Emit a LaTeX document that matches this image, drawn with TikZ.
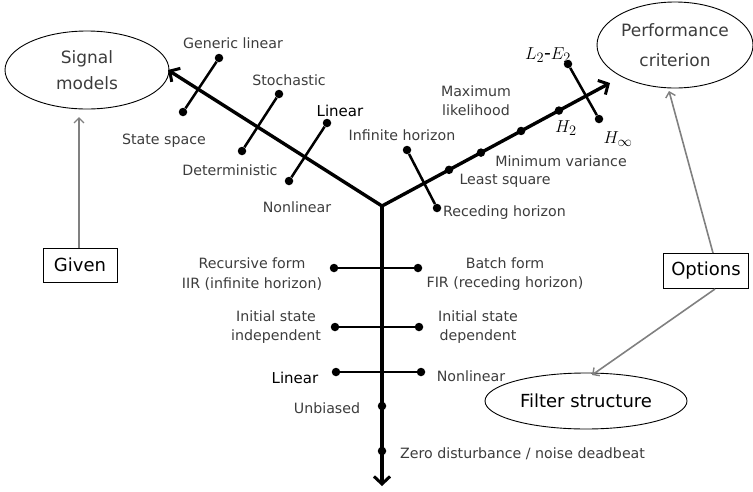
\documentclass[tikz,border=0pt]{standalone}
\usepackage{fontspec}
\setmainfont{DejaVu Sans}
\usetikzlibrary{arrows.meta,shapes.geometric}
\definecolor{labgray}{HTML}{3C3C3C}
\definecolor{arrgray}{HTML}{808080}
\begin{document}
\begin{tikzpicture}[x=1pt,y=-1pt,
  lbl/.style={text=labgray,font=\fontsize{14.2}{19.5}\selectfont,inner sep=0pt,align=center},
  blk/.style={text=black,font=\fontsize{15}{18}\selectfont,inner sep=0pt},
  mth/.style={font=\fontsize{19}{22}\selectfont,inner sep=0pt},
  axis/.style={line width=3.4pt,line cap=round,-{Straight Barb[length=7.5pt,width=16pt,line width=3pt]}},
  bar/.style={line width=2.5pt},
  dot/.style={circle,fill=black,inner sep=0pt,minimum size=8.5pt},
  oval/.style={ellipse,draw,line width=0.9pt,inner sep=0pt,text=labgray,align=center},
  box/.style={draw,line width=1pt,inner sep=0pt,font=\fontsize{18}{21}\selectfont},
  garrow/.style={draw=arrgray,line width=1.6pt,-{Straight Barb[length=5pt,width=10pt,line width=1.4pt]}}
]
\useasboundingbox (0,0) rectangle (753,491);

% ellipses and boxes
\node[oval,minimum width=164,minimum height=78,font=\fontsize{17}{26}\selectfont] (SM) at (87,70) {Signal\\models};
\node[oval,minimum width=156,minimum height=86,font=\fontsize{17}{30}\selectfont] (PC) at (675,45) {Performance\\criterion};
\node[oval,minimum width=202,minimum height=56,text=black,font=\fontsize{18}{21}\selectfont] (FS) at (586,401) {Filter structure};
\node[box,minimum width=74,minimum height=34] (GV) at (80,265) {Given};
\node[box,minimum width=85,minimum height=35] (OP) at (706,271) {Options};

% grey arrows
\coordinate (smT) at (79,117);
\coordinate (pcT) at (669,91);
\coordinate (fsT) at (592,375);
\draw[garrow] (GV.north -| smT) -- (smT);
\draw[garrow] ([xshift=7pt]OP.north) -- (pcT);
\draw[garrow] ([xshift=9pt]OP.south) -- (fsT);

% main axes
\coordinate (J) at (382,206);
\coordinate (lTip) at (168,70);
\coordinate (rTip) at (610,83);
\coordinate (dTip) at (382,486);
\draw[axis] (J) -- (lTip);
\draw[axis] (J) -- (rTip);
\draw[axis] (J) -- (dTip);

% left arm cross bars
\node[dot] (l1a) at (219,58) {};
\node[dot] (l1b) at (183,112) {};
\node[dot] (l2a) at (279,94) {};
\node[dot] (l2b) at (242,151) {};
\node[dot] (l3a) at (327,123) {};
\node[dot] (l3b) at (289,181) {};
\draw[bar] (l1a) -- (l1b);
\draw[bar] (l2a) -- (l2b);
\draw[bar] (l3a) -- (l3b);
\node[lbl] (t1) at (233,43) {Generic linear};
\node[lbl] (t2) at (164,141) {State space};
\node[lbl] (t3) at (289,80) {Stochastic};
\node[lbl] (t4) at (230,170) {Deterministic};
\node[blk] (t5) at (340,111) {Linear};
\node[lbl] (t6) at (297,207) {Nonlinear};

% right arm
\path (J) -- (rTip)
  node[dot,pos=0.294] (r1) {}
  node[dot,pos=0.434] (r2) {}
  node[dot,pos=0.610] (r3) {}
  node[dot,pos=0.776] (r4) {};
\node[dot] (ra) at (407,150) {};
\node[dot] (rb) at (437,208) {};
\draw[bar] (ra) -- (rb);
\node[dot] (rc) at (568,64) {};
\node[dot] (rd) at (599,119) {};
\draw[bar] (rc) -- (rd);
\node[lbl] (u1) at (402,135) {Infinite horizon};
\node[lbl,anchor=west] (u2) at (443,213) {Receding horizon};
\node[lbl] (u3) at (505,181) {Least square};
\node[lbl] (u4) at (561,161) {Minimum variance};
\node[lbl] (u5) at (476,100.5) {Maximum\\likelihood};
\node[mth] (u6) at (566,128) {$H_2$};
\node[mth] (u7) at (618,139) {$H_\infty$};
\node[mth] (u8) at (548,55) {$L_2$-$E_2$};

% down arm
\node[dot] (d1a) at (334,268) {};
\node[dot] (d1b) at (418,268) {};
\node[dot] (d2a) at (335,327) {};
\node[dot] (d2b) at (419,327) {};
\node[dot] (d3a) at (336,372) {};
\node[dot] (d3b) at (421,372) {};
\draw[bar] (d1a) -- (d1b);
\draw[bar] (d2a) -- (d2b);
\draw[bar] (d3a) -- (d3b);
\node[dot] (d4) at (382,406) {};
\node[dot] (d5) at (382,451) {};
\node[lbl] (v1) at (252,274) {Recursive form\\IIR (infinite horizon)};
\node[lbl] (v2) at (505,274) {Batch form\\FIR (receding horizon)};
\node[lbl] (v3) at (276,327) {Initial state\\independent};
\node[lbl] (v4) at (478,327) {Initial state\\dependent};
\node[blk] (v5) at (295,378) {Linear};
\node[lbl] (v6) at (471,376) {Nonlinear};
\node[lbl] (v7) at (327,408) {Unbiased};
\node[lbl,anchor=west] (v8) at (400,454) {Zero disturbance / noise deadbeat};
\end{tikzpicture}
\end{document}
